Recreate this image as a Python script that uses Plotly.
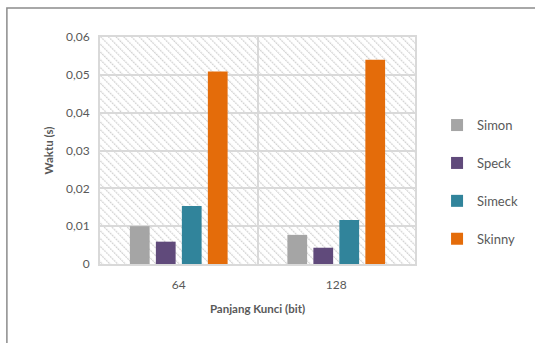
import plotly.graph_objects as go
import base64

key_lengths = ["64", "128"]
simon = [0.0100, 0.0077]
speck = [0.0059, 0.0043]
simeck = [0.0153, 0.0116]
skinny = [0.0509, 0.0540]
y_ticks = [0, 0.01, 0.02, 0.03, 0.04, 0.05, 0.06]
y_tick_labels = ["0", "0,01", "0,02", "0,03", "0,04", "0,05", "0,06"]

series = [
    ("Simon", simon, "#A5A5A5"),
    ("Speck", speck, "#604A7B"),
    ("Simeck", simeck, "#31849B"),
    ("Skinny", skinny, "#E46C0A"),
]

FONT = "Lato, Calibri, 'Open Sans', sans-serif"
TEXT = "#595959"
GRID = "#D9D9D9"

fig = go.Figure()
for i, (name, vals, color) in enumerate(series):
    fig.add_trace(go.Bar(
        x=key_lengths, y=vals, name=name,
        marker=dict(color=color, line=dict(width=0)),
        legendgroup=f"g{i}",
    ))

# diagonal hatch fill for the plotting area
W, H = 318, 227
hatch_svg = f'''<svg xmlns="http://www.w3.org/2000/svg" width="{W}" height="{H}" viewBox="0 0 {W} {H}">
<defs><pattern id="p" width="5.5" height="5.5" patternUnits="userSpaceOnUse" patternTransform="rotate(-45)">
<rect width="5.5" height="5.5" fill="#ffffff"/>
<line x1="0" y1="0" x2="0" y2="5.5" stroke="#D2D2D2" stroke-width="2.4" stroke-dasharray="2 0.8"/>
</pattern></defs>
<rect width="{W}" height="{H}" fill="url(#p)"/>
</svg>'''
hatch_uri = "data:image/svg+xml;base64," + base64.b64encode(hatch_svg.encode()).decode()

fig.update_layout(
    width=535, height=343,
    margin=dict(l=100, r=117, t=37, b=79),
    paper_bgcolor="white",
    plot_bgcolor="rgba(0,0,0,0)",
    barmode="group",
    bargap=0.34,
    bargroupgap=0.24,
    font=dict(family=FONT, color=TEXT, size=12),
    images=[dict(
        source=hatch_uri, xref="paper", yref="paper",
        x=0, y=1, sizex=1, sizey=1, sizing="stretch",
        xanchor="left", yanchor="top", layer="below",
    )],
    xaxis=dict(
        type="category", tickson="boundaries",
        showgrid=True, gridcolor=GRID, gridwidth=2,
        showline=True, linecolor=GRID, linewidth=2, mirror=True,
        ticks="", ticklabelstandoff=9, tickfont=dict(size=12, color=TEXT),
        title=dict(text="<b>Panjang Kunci (bit)</b>", font=dict(size=11.5, color=TEXT), standoff=14),
    ),
    yaxis=dict(
        range=[0, 0.06], tickvals=y_ticks, ticktext=y_tick_labels,
        showgrid=True, gridcolor=GRID, gridwidth=2,
        showline=True, linecolor=GRID, linewidth=2, mirror=True,
        zeroline=False, ticks="", ticklabelstandoff=6,
        tickfont=dict(size=12, color=TEXT),
        title=dict(text="<b>Waktu (s)</b>", font=dict(size=11.5, color=TEXT), standoff=10),
    ),
    legend=dict(
        x=1.07, y=0.678, xanchor="left", yanchor="top",
        traceorder="grouped", tracegroupgap=18,
        font=dict(size=13, color=TEXT),
        itemwidth=30, bgcolor="rgba(0,0,0,0)",
    ),
    shapes=[dict(
        type="rect", xref="paper", yref="paper",
        x0=(6 - 100) / W, x1=2.0, y0=-1.0, y1=(264 - 8) / H,
        line=dict(color="#8C8C8C", width=1.5), fillcolor="rgba(0,0,0,0)", layer="below",
    )],
)

fig.write_html("out.html")
